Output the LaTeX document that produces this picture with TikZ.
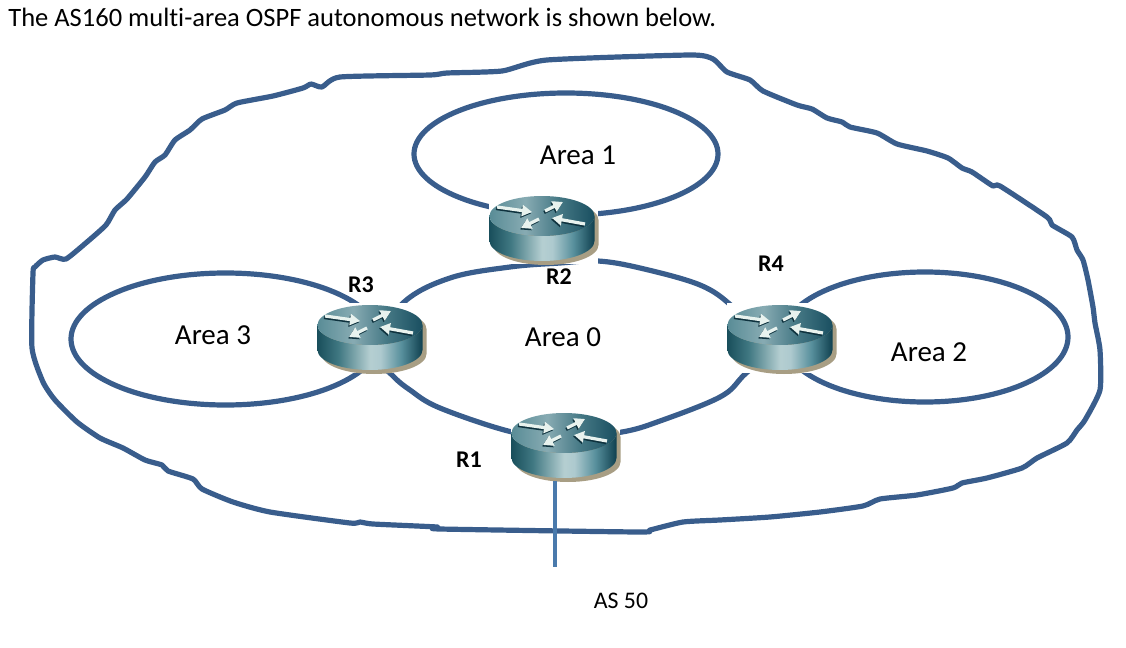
\documentclass[tikz,border=0pt]{standalone}
\usepackage{fontspec}
\setmainfont[Ligatures=NoCommon]{Carlito}
\usetikzlibrary{arrows.meta}
\definecolor{loopblue}{RGB}{57,93,140}
\definecolor{stemblue}{RGB}{74,122,172}
\definecolor{routertan}{RGB}{168,158,132}
\definecolor{routerdark}{RGB}{14,50,62}
\definecolor{arrowwhite}{RGB}{232,242,238}
\pgfdeclarehorizontalshading{routerside}{100bp}{rgb(0bp)=(0.10,0.31,0.36); rgb(25bp)=(0.10,0.31,0.36);
    rgb(35bp)=(0.25,0.47,0.51); rgb(50bp)=(0.71,0.81,0.82); rgb(55bp)=(0.68,0.79,0.81);
    rgb(65bp)=(0.34,0.56,0.61); rgb(75bp)=(0.06,0.25,0.31); rgb(100bp)=(0.06,0.25,0.31)}
\pgfdeclarehorizontalshading{routertop}{100bp}{rgb(0bp)=(0.35,0.55,0.59); rgb(25bp)=(0.35,0.55,0.59);
    rgb(42bp)=(0.53,0.67,0.70); rgb(58bp)=(0.27,0.47,0.52); rgb(75bp)=(0.10,0.31,0.38); rgb(100bp)=(0.10,0.31,0.38)}
\tikzset{
    loopline/.style={loopblue,line width=2.6pt,line join=round},
    stemline/.style={stemblue,line width=2pt},
    routerbox/.style={fill=white,inner sep=0pt,minimum width=54.5pt,minimum height=35pt},
    routerarrow/.style={line width=1.6pt,-{Triangle[length=5pt,width=5.5pt]}},
    arealabel/.style={font=\fontsize{14.5}{17}\selectfont},
    routerlabel/.style={font=\fontsize{12}{14}\selectfont\bfseries},
}
% #1 node name, #2 x of the disc centre, #3 y of the disc's top edge
\newcommand{\routericon}[3]{
    \node[routerbox] (#1) at (#2+1.5,#3+33) {};
    \begin{scope}[shift={(#2,#3+20)}]
        \fill[routertan] (-48.5,4) -- (-48.5,29) arc[start angle=180,end angle=0,x radius=52.5,y radius=20]
            -- (56.5,4) arc[start angle=0,end angle=-180,x radius=52.5,y radius=20] -- cycle;
        \shade[shading=routerside] (-52.5,0) -- (-52.5,25) arc[start angle=180,end angle=0,x radius=52.5,y radius=20]
            -- (52.5,0) arc[start angle=0,end angle=180,x radius=52.5,y radius=20] -- cycle;
        \shade[shading=routertop] (0,0) ellipse (52.5 and 20);
        \foreach \ax/\ay/\bx/\by in {-45/-9/-10/-4, 3/-5/21/-14, -3/3/-21/12, 43/8/10/2} {
            \draw[routerarrow,routerdark] (\ax-1,\ay+1.5) -- (\bx-1,\by+1.5);
            \draw[routerarrow,arrowwhite] (\ax,\ay) -- (\bx,\by);
        }
    \end{scope}
}

\begin{document}
\begin{tikzpicture}[x=0.5pt,y=-0.5pt]
    \useasboundingbox (0,0) rectangle (1126,648);

    \node[anchor=west,font=\fontsize{13.25}{16}\selectfont,inner sep=0pt] (title) at (8,17)
        {The AS160 multi-area OSPF autonomous network is shown below.};

    % hand-drawn outline of the autonomous system
    \draw[loopline] plot[smooth cycle,tension=0.35] coordinates {
        (33,273) (35,267) (43,260) (55,257) (66,259) (87,242) (106,225) (115,210) (127,199)
        (145,177) (155,162) (165,155) (175,140) (190,130) (202,119) (225,110) (237,103)
        (273,96) (303,88) (311,84) (322,87) (340,77) (430,75) (447,73) (502,71) (547,60)
        (690,55) (713,59) (727,72) (750,80) (763,91) (797,105) (812,109) (827,118) (842,122)
        (850,127) (877,133) (897,144) (927,151) (948,158) (962,168) (972,172) (993,186)
        (1000,186) (1047,217) (1052,225) (1072,237) (1077,250) (1083,260) (1088,280)
        (1093,307) (1095,323) (1100,350) (1100,390) (1085,420) (1077,430) (1067,443)
        (1037,458) (1022,468) (987,478) (962,483) (953,488) (917,495) (880,499) (863,506)
        (820,512) (770,517) (720,520) (683,522) (650,530) (638,532) (440,529) (437,527)
        (373,524) (360,522) (350,523) (270,512) (233,502) (202,489) (193,479) (168,471)
        (162,465) (145,460) (123,448) (100,438) (77,422) (55,400) (43,382) (32,348)};

    % area loops
    \draw[loopline] (566,154) ellipse (152 and 61);
    \draw[loopline] (225.5,339) ellipse (154.5 and 66);
    \draw[loopline] (925,337) ellipse (143 and 65);
    \draw[loopline] plot[smooth cycle,tension=0.6] coordinates {
        (372,350) (403,303) (450,278) (510,267) (560,263) (598,261) (640,268) (700,285)
        (733,307) (770,345) (743,376) (720,397) (660,421) (622,432) (565,438) (512,432)
        (440,408) (410,390) (392,375)};

    \routericon{r2}{542}{196}
    \routericon{r3}{370}{305}
    \routericon{r4}{780}{305}
    \routericon{r1}{564}{413}

    \coordinate (stemend) at (555,567);
    \draw[stemline] (stemend |- r1.south) -- (stemend);

    \node[arealabel] (area1) at (578,155) {Area 1};
    \node[arealabel] (area3) at (213,335) {Area 3};
    \node[arealabel] (area0) at (563,337) {Area 0};
    \node[arealabel] (area2) at (929,352) {Area 2};

    \node[routerlabel] (labelr3) at (361,285) {R3};
    \node[routerlabel] (labelr2) at (559,277) {R2};
    \node[routerlabel] (labelr4) at (771,264) {R4};
    \node[routerlabel] (labelr1) at (469,460) {R1};

    \node[font=\fontsize{11.9}{14}\selectfont] (as50) at (621,601) {AS 50};
\end{tikzpicture}
\end{document}
